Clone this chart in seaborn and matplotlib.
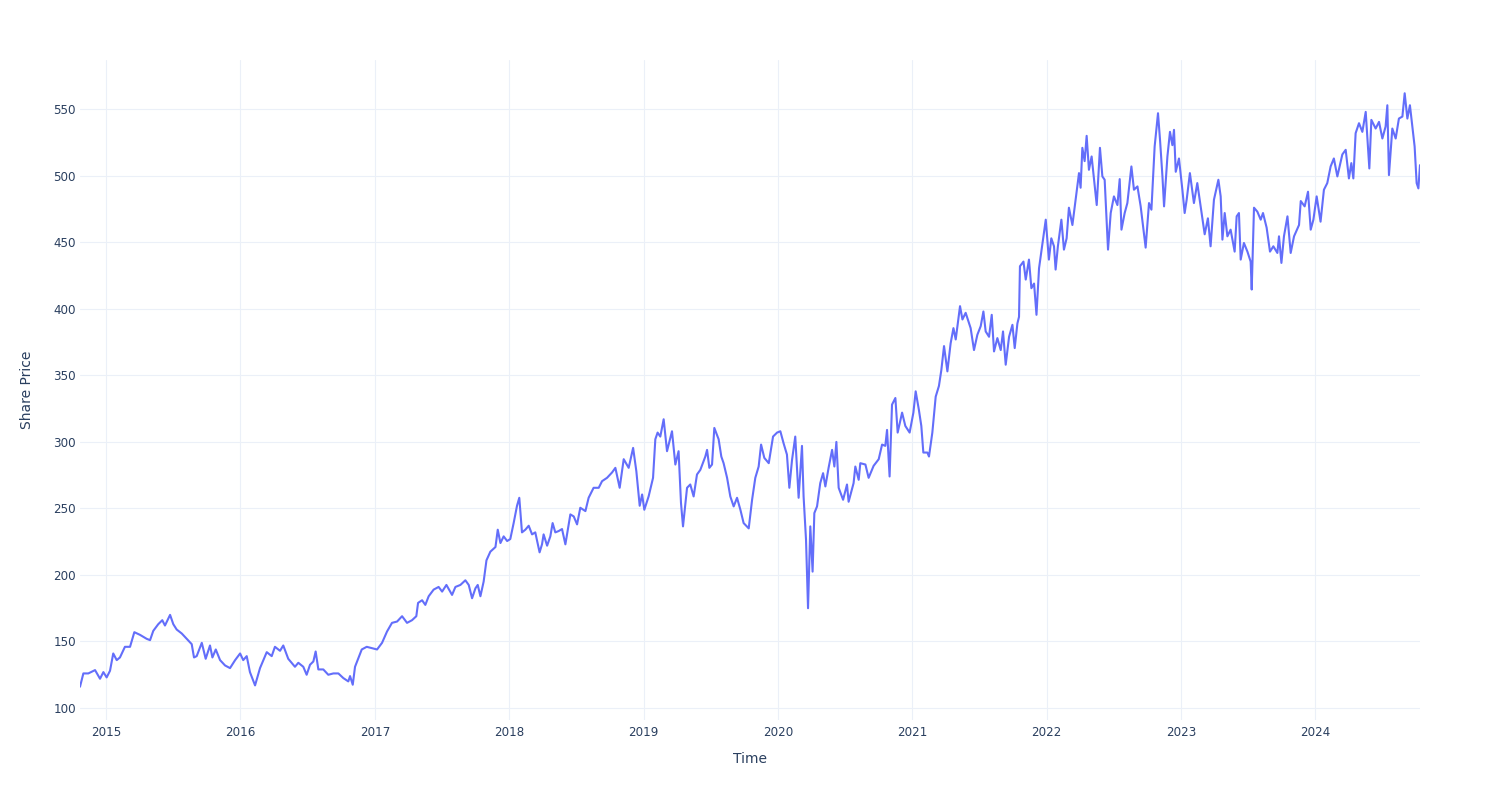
import numpy as np
import pandas as pd
import matplotlib
matplotlib.use("Agg")
import matplotlib.pyplot as plt
import matplotlib.dates as mdates
import seaborn as sns

# Time stamps as decimal years
t_year = [
    2014.806, 2014.831, 2014.868, 2014.918, 2014.955, 2014.980, 2015.005, 2015.030, 2015.054, 2015.080,
    2015.104, 2015.141, 2015.179, 2015.211, 2015.253, 2015.303, 2015.328, 2015.352, 2015.389, 2015.419,
    2015.439, 2015.477, 2015.501, 2015.526, 2015.564, 2015.601, 2015.638, 2015.655, 2015.675, 2015.713,
    2015.742, 2015.774, 2015.792, 2015.817, 2015.849, 2015.886, 2015.923, 2015.961, 2015.998, 2016.022,
    2016.048, 2016.072, 2016.110, 2016.147, 2016.197, 2016.234, 2016.258, 2016.296, 2016.320, 2016.357,
    2016.407, 2016.432, 2016.469, 2016.494, 2016.519, 2016.544, 2016.561, 2016.581, 2016.618, 2016.655,
    2016.693, 2016.730, 2016.767, 2016.804, 2016.817, 2016.837, 2016.854, 2016.879, 2016.904, 2016.941,
    2016.978, 2017.016, 2017.053, 2017.090, 2017.127, 2017.165, 2017.202, 2017.239, 2017.276, 2017.308,
    2017.321, 2017.351, 2017.375, 2017.400, 2017.437, 2017.474, 2017.500, 2017.532, 2017.574, 2017.599,
    2017.636, 2017.673, 2017.698, 2017.723, 2017.748, 2017.765, 2017.785, 2017.809, 2017.830, 2017.859,
    2017.897, 2017.914, 2017.934, 2017.958, 2017.984, 2018.008, 2018.033, 2018.058, 2018.075, 2018.095,
    2018.120, 2018.145, 2018.170, 2018.194, 2018.226, 2018.244, 2018.256, 2018.282, 2018.306, 2018.323,
    2018.343, 2018.368, 2018.393, 2018.418, 2018.455, 2018.480, 2018.505, 2018.529, 2018.567, 2018.591,
    2018.628, 2018.666, 2018.691, 2018.728, 2018.765, 2018.790, 2018.822, 2018.852, 2018.889, 2018.922,
    2018.946, 2018.971, 2018.989, 2019.006, 2019.038, 2019.071, 2019.088, 2019.105, 2019.125, 2019.150,
    2019.175, 2019.212, 2019.237, 2019.261, 2019.279, 2019.294, 2019.324, 2019.348, 2019.373, 2019.398,
    2019.423, 2019.460, 2019.473, 2019.490, 2019.510, 2019.527, 2019.559, 2019.579, 2019.596, 2019.622,
    2019.646, 2019.671, 2019.696, 2019.721, 2019.745, 2019.783, 2019.808, 2019.832, 2019.857, 2019.875,
    2019.899, 2019.932, 2019.964, 2019.994, 2020.019, 2020.043, 2020.068, 2020.086, 2020.106, 2020.130,
    2020.155, 2020.180, 2020.192, 2020.210, 2020.225, 2020.242, 2020.259, 2020.272, 2020.292, 2020.316,
    2020.337, 2020.354, 2020.378, 2020.404, 2020.421, 2020.436, 2020.453, 2020.486, 2020.515, 2020.527,
    2020.564, 2020.577, 2020.602, 2020.614, 2020.652, 2020.676, 2020.713, 2020.751, 2020.776, 2020.800,
    2020.813, 2020.832, 2020.850, 2020.875, 2020.892, 2020.925, 2020.949, 2020.981, 2021.007, 2021.024,
    2021.048, 2021.066, 2021.081, 2021.111, 2021.123, 2021.148, 2021.173, 2021.197, 2021.215, 2021.235,
    2021.260, 2021.284, 2021.305, 2021.322, 2021.354, 2021.372, 2021.396, 2021.433, 2021.458, 2021.483,
    2021.508, 2021.528, 2021.545, 2021.570, 2021.590, 2021.607, 2021.632, 2021.657, 2021.674, 2021.694,
    2021.719, 2021.744, 2021.761, 2021.781, 2021.793, 2021.800, 2021.826, 2021.843, 2021.867, 2021.885,
    2021.905, 2021.923, 2021.942, 2021.967, 2021.992, 2022.016, 2022.034, 2022.054, 2022.066, 2022.083,
    2022.109, 2022.128, 2022.148, 2022.165, 2022.191, 2022.215, 2022.240, 2022.252, 2022.265, 2022.282,
    2022.297, 2022.314, 2022.334, 2022.351, 2022.372, 2022.396, 2022.414, 2022.431, 2022.456, 2022.476,
    2022.500, 2022.526, 2022.543, 2022.556, 2022.580, 2022.600, 2022.630, 2022.649, 2022.675, 2022.699,
    2022.736, 2022.761, 2022.779, 2022.803, 2022.828, 2022.843, 2022.861, 2022.873, 2022.898, 2022.917,
    2022.935, 2022.947, 2022.960, 2022.984, 2023.010, 2023.027, 2023.042, 2023.066, 2023.096, 2023.121,
    2023.146, 2023.176, 2023.200, 2023.220, 2023.245, 2023.278, 2023.295, 2023.308, 2023.325, 2023.345,
    2023.369, 2023.399, 2023.414, 2023.431, 2023.444, 2023.468, 2023.494, 2023.518, 2023.526, 2023.543,
    2023.568, 2023.593, 2023.610, 2023.637, 2023.662, 2023.687, 2023.717, 2023.729, 2023.747, 2023.766,
    2023.792, 2023.816, 2023.841, 2023.878, 2023.891, 2023.920, 2023.945, 2023.965, 2023.985, 2024.010,
    2024.039, 2024.064, 2024.089, 2024.114, 2024.138, 2024.164, 2024.201, 2024.226, 2024.250, 2024.268,
    2024.283, 2024.300, 2024.325, 2024.350, 2024.375, 2024.392, 2024.402, 2024.417, 2024.449, 2024.474,
    2024.499, 2024.523, 2024.536, 2024.548, 2024.573, 2024.598, 2024.622, 2024.648, 2024.665, 2024.685,
    2024.704, 2024.722, 2024.739, 2024.754, 2024.767, 2024.779,
]

share_price = [
    116, 126, 126, 128.5, 122, 127, 123, 128, 141, 136,
    138, 146, 146, 157, 155, 152, 151, 158, 163, 166,
    162, 170, 163, 159, 156, 152, 148, 138, 139, 149,
    137, 147, 138, 144, 136, 132, 130, 136, 141, 136,
    139, 127, 117, 130, 142, 139, 146, 143, 147, 137,
    131, 134, 131, 125, 132.5, 135, 142.5, 129, 129, 125,
    126, 126, 122.5, 120, 124, 117.5, 131, 137.5, 144, 146,
    145, 144, 149, 157.5, 164, 165, 169, 164, 166, 169,
    179, 181, 177.5, 184, 189, 191, 187.5, 192.5, 185, 191,
    192.5, 196, 192.5, 182.5, 190, 192.5, 184, 195, 211, 217.5,
    221, 234, 224, 229, 225.5, 227, 239, 252, 258, 232,
    234, 237, 230.5, 232, 217, 223, 230.5, 222, 229, 239,
    232, 233, 234.5, 223, 245.5, 244, 238, 250.5, 248, 258,
    265.5, 265.5, 270.5, 273, 277, 280.5, 265.5, 287, 280.5, 295.5,
    278, 252, 260.5, 249, 259, 273, 302, 307, 304, 317,
    293, 308, 283, 293, 254, 236.5, 265.5, 268, 259, 275.5,
    279, 289, 294, 280.5, 283, 310.5, 302, 289, 284, 273,
    259, 251.5, 258, 249, 239, 235, 256.5, 273, 281.5, 298,
    288, 284, 304, 307, 308, 299, 290.5, 265.5, 286.5, 304,
    258, 297, 259, 226.5, 175, 236.5, 202.5, 246.5, 251.5, 269,
    276.5, 266.5, 280.5, 294, 281.5, 300, 265.5, 256.5, 268, 255,
    269, 281.5, 271.5, 284, 283, 273, 282, 287, 298, 297,
    309, 274, 328, 333, 307, 322, 312, 307, 322, 338,
    324, 312, 292, 292, 289, 307, 334, 342, 354, 372,
    353, 374, 385.5, 377, 402, 392, 397, 385.5, 369, 380.5,
    387, 398, 383, 379, 395.5, 368, 378, 369, 383, 358,
    379, 388, 370.5, 389, 394, 432, 435.5, 422, 437, 415.5,
    419, 395.5, 430.5, 449, 467, 437, 453, 447, 429.5, 447,
    467, 444.5, 453, 476, 463, 482, 502, 491, 521, 511,
    530, 504.5, 514.5, 498, 478, 521, 499.5, 497, 444.5, 472,
    484.5, 478, 497.5, 459.5, 472, 479.5, 507, 489.5, 492, 477,
    446, 479.5, 474.5, 522, 547, 527, 499.5, 477, 514.5, 533,
    523, 534.5, 503, 513, 489.5, 472, 482, 502, 479.5, 494.5,
    477, 456, 468, 447, 482, 497, 484.5, 452, 472, 454.5,
    459.5, 443, 469.5, 472, 437, 449.5, 443, 435.5, 414.5, 476,
    473, 467, 472, 461, 443, 447, 442, 454.5, 434.5, 454.5,
    469.5, 442, 454.5, 463, 481, 477, 488, 459.5, 467, 484.5,
    465.5, 489.5, 494.5, 507, 513, 499.5, 516, 519.5, 498, 509.5,
    498, 532, 539.5, 533, 548, 522, 505.5, 542, 535.5, 540.5,
    528, 537, 553, 500.5, 535.5, 528, 543, 544.5, 562, 543,
    553, 537, 522, 494.5, 490.5, 508,
]

y_ticks = [100, 150, 200, 250, 300, 350, 400, 450, 500, 550]
x_tick_years = [2015, 2016, 2017, 2018, 2019, 2020, 2021, 2022, 2023, 2024]


def year_to_date(y):
    base = int(np.floor(y))
    return pd.Timestamp(f"{base}-01-01") + pd.to_timedelta((y - base) * 365.25, unit="D")


df = pd.DataFrame({
    "Time": [year_to_date(v) for v in t_year],
    "Share Price": share_price,
})

sns.set_theme(style="white")
plt.rcParams["font.family"] = ["DejaVu Sans"]

text_color = "#2a3f5f"
grid_color = "#EBF0F8"
line_color = "#636EFA"

fig = plt.figure(figsize=(15, 8), dpi=100)
ax = fig.add_axes([80 / 1500, 80 / 800, 1340 / 1500, 660 / 800])

sns.lineplot(data=df, x="Time", y="Share Price", color=line_color, linewidth=1.5, ax=ax)

ax.set_xlim(df["Time"].min(), df["Time"].max())
ax.set_ylim(91, 587)

ax.set_yticks(y_ticks)
ax.set_yticklabels([str(v) for v in y_ticks])
ax.set_xticks([pd.Timestamp(f"{y}-01-01") for y in x_tick_years])
ax.set_xticklabels([str(y) for y in x_tick_years])

ax.grid(True, color=grid_color, linewidth=0.8)
ax.set_axisbelow(True)
for s in ax.spines.values():
    s.set_visible(False)

ax.tick_params(axis="both", length=0, labelsize=8.6, colors=text_color)
ax.tick_params(axis="y", pad=3)
ax.tick_params(axis="x", pad=4)

ax.set_xlabel("Time", fontsize=10, color=text_color, labelpad=10)
ax.set_ylabel("Share Price", fontsize=10, color=text_color, labelpad=14)

fig.savefig("out.png", dpi=100, facecolor="white")
